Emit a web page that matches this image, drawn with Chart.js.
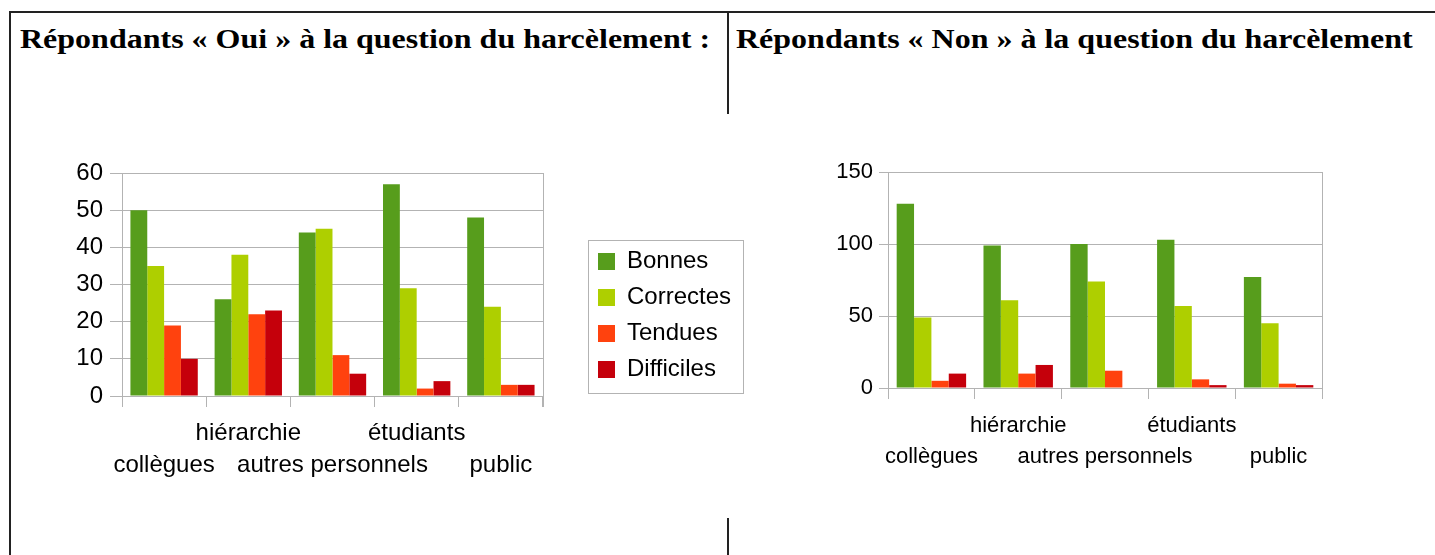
<!DOCTYPE html>
<html>
<head>
<meta charset="utf-8">
<script src="https://cdn.jsdelivr.net/npm/chart.js@4/dist/chart.umd.min.js"></script>
<style>
  body { margin: 0; background: #fff; width: 1435px; height: 555px; overflow: hidden; position: relative; }
  .line { position: absolute; background: #222; }
  .title { position: absolute; font-family: "Liberation Serif", serif; font-weight: bold; font-size: 27px; line-height: 27px; white-space: nowrap; color: #000; transform-origin: 0 0; transform: scaleX(1.185); }
  canvas { position: absolute; }
</style>
</head>
<body>
<div class="line" style="left:10px; top:11px; width:1425px; height:2px;"></div>
<div class="line" style="left:9px; top:11px; width:2px; height:544px;"></div>
<div class="line" style="left:727px; top:11px; width:2px; height:103px;"></div>
<div class="line" style="left:727px; top:518px; width:2px; height:37px;"></div>
<div class="title" style="left:20px; top:26px;">Répondants « Oui » à la question du harcèlement :</div>
<div class="title" style="left:736px; top:26px;">Répondants « Non » à la question du harcèlement</div>

<canvas id="oui" width="730" height="360" style="left:30px; top:140px;"></canvas>
<canvas id="non" width="600" height="360" style="left:800px; top:140px;"></canvas>

<script>
const categories = ['collègues', 'hiérarchie', 'autres personnels', 'étudiants', 'public'];
const seriesNames = ['Bonnes', 'Correctes', 'Tendues', 'Difficiles'];
const seriesColors = ['#579D1C', '#AECF00', '#FF420E', '#C5000B'];

// Répondants "Oui"
const ouiBonnes = [50, 26, 44, 57, 48];
const ouiCorrectes = [35, 38, 45, 29, 24];
const ouiTendues = [19, 22, 11, 2, 3];
const ouiDifficiles = [10, 23, 6, 4, 3];

// Répondants "Non"
const nonBonnes = [128, 99, 100, 103, 77];
const nonCorrectes = [49, 61, 74, 57, 45];
const nonTendues = [5, 10, 12, 6, 3];
const nonDifficiles = [10, 16, 0, 2, 2];

const grey = '#b3b3b3';
Chart.defaults.font.family = "'Liberation Sans', Arial, sans-serif";
Chart.defaults.color = '#000';

function makeDatasets(values) {
  return values.map((v, i) => ({
    label: seriesNames[i],
    data: v,
    backgroundColor: seriesColors[i],
    borderColor: seriesColors[i],
    borderWidth: 0,
    categoryPercentage: 0.8,
    barPercentage: 1.0
  }));
}

// staggered category labels: odd ones on the upper line
function staggered(value, index) {
  const name = this.getLabelForValue(value);
  return index % 2 ? [name, ''] : ['', name];
}

// right edge of the plot + frame around the legend
const frames = {
  id: 'frames',
  afterDraw(chart) {
    const ctx = chart.ctx;
    const a = chart.chartArea;
    ctx.save();
    ctx.strokeStyle = grey;
    ctx.lineWidth = 1;
    const xr = Math.round(a.right) + 0.5;
    ctx.beginPath();
    ctx.moveTo(xr, a.top);
    ctx.lineTo(xr, a.bottom + 11);
    ctx.stroke();
    const lg = chart.legend;
    if (lg && lg.options.display) {
      let x0 = Infinity, x1 = -Infinity, y0 = Infinity, y1 = -Infinity;
      lg.legendHitBoxes.forEach(b => {
        x0 = Math.min(x0, b.left); x1 = Math.max(x1, b.left + b.width);
        y0 = Math.min(y0, b.top); y1 = Math.max(y1, b.top + b.height);
      });
      ctx.strokeRect(Math.round(x0 - 10) + 0.5, Math.round(y0 - 10) + 0.5, Math.round(x1 - x0 + 22), Math.round(y1 - y0 + 21));
    }
    ctx.restore();
  }
};

function makeChart(id, datasets, cfg) {
  return new Chart(document.getElementById(id), {
    type: 'bar',
    data: { labels: categories, datasets: datasets },
    plugins: [frames],
    options: {
      responsive: false,
      animation: false,
      devicePixelRatio: 1,
      layout: { padding: cfg.padding },
      plugins: {
        tooltip: { enabled: false },
        legend: {
          display: cfg.legend,
          position: 'right',
          align: 'center',
          fullSize: false,
          // empty title only pushes the entries down a little
          title: { display: true, text: '', padding: 0, font: { size: 10, lineHeight: '62px' } },
          labels: { boxWidth: 17, boxHeight: 17, padding: 12, font: { size: cfg.fontSize }, color: '#000' }
        }
      },
      scales: {
        x: {
          grid: { offset: true, drawOnChartArea: false, tickLength: 11, color: grey },
          border: { color: grey },
          ticks: {
            autoSkip: false, maxRotation: 0, padding: cfg.xPad,
            font: { size: cfg.fontSize, lineHeight: cfg.lineHeight },
            callback: staggered
          },
          afterFit(s) { s.height = 90; }
        },
        y: {
          min: 0, max: cfg.max,
          grid: { tickLength: cfg.yTick, color: grey },
          border: { color: grey },
          ticks: { stepSize: cfg.step, padding: cfg.yPad, font: { size: cfg.fontSize } },
          afterFit(s) { s.width = cfg.yWidth; }
        },
        // empty space between plot and legend
        gap: {
          position: 'right',
          display: false,
          afterFit(s) { s.width = cfg.gap; }
        }
      }
    }
  });
}

makeChart('oui', makeDatasets([ouiBonnes, ouiCorrectes, ouiTendues, ouiDifficiles]), {
  padding: { top: 33, bottom: 14, left: 0, right: 19 },
  legend: true, fontSize: 24, lineHeight: 1.32, xPad: 11,
  max: 60, step: 10, yTick: 12, yPad: 7, yWidth: 92, gap: 43
});

makeChart('non', makeDatasets([nonBonnes, nonCorrectes, nonTendues, nonDifficiles]), {
  padding: { top: 32, bottom: 22, left: 0, right: 78 },
  legend: false, fontSize: 22, lineHeight: 1.41, xPad: 11,
  max: 150, step: 50, yTick: 9, yPad: 6, yWidth: 88, gap: 0
});
</script>
</body>
</html>
